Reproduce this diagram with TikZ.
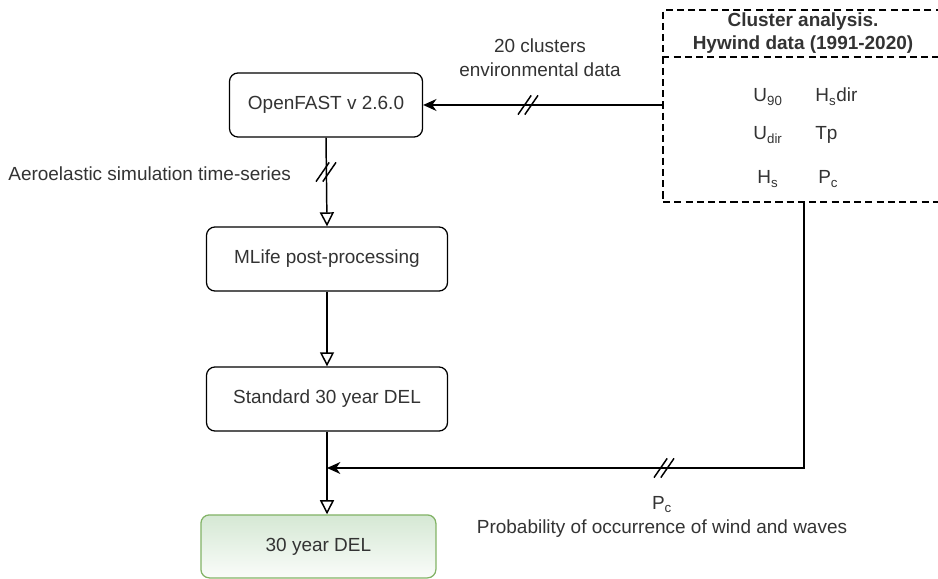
\documentclass[tikz,border=0pt]{standalone}
\usepackage{fontspec}
\setmainfont{Liberation Sans}
\usepackage{tikz}
\usetikzlibrary{arrows.meta}
\definecolor{txt}{HTML}{333333}
\definecolor{delfill}{HTML}{D5E8D4}
\definecolor{delline}{HTML}{82B366}
\newcommand{\dfont}{\fontsize{13.5}{17}\selectfont}
\tikzstyle{block}=[draw, rounded corners=6pt, line width=0.9pt, text=txt, inner sep=0pt, minimum height=1.6cm]
\tikzstyle{wblock}=[block, minimum width=6.025cm]
\tikzstyle{link}=[line width=1.05pt, -{Triangle[open, length=10pt, width=10pt]}]
\tikzstyle{feed}=[line width=1.05pt, -{Stealth[length=9.5pt, width=8.5pt, inset=3pt]}]
\tikzstyle{lbl}=[text=txt, align=center]
\tikzstyle{var}=[text=txt, inner sep=0pt]
\tikzstyle{cbox}=[draw, line width=0.8pt, dash pattern=on 5pt off 3pt]
\tikzset{dslash/.pic={
    \draw[line width=1.05pt] (-0.25,-0.24) -- (0.08,0.24);
    \draw[line width=1.05pt] (-0.08,-0.24) -- (0.25,0.24);
}}

\begin{document}
\begin{tikzpicture}[font=\dfont]
        \useasboundingbox (0,0) rectangle (23.45,-14.475);
        % process chain
        \node[block, minimum width=4.825cm] (ofast) at (8.15,-2.625) {OpenFAST v 2.6.0};
        \node[wblock] (mlife) at (8.175,-6.475) {MLife post-processing};
        \node[wblock] (std) at (8.175,-9.975) {Standard 30 year DEL};
        \node[block, draw=delline, top color=delfill, bottom color=delfill!12, minimum width=5.875cm, minimum height=1.575cm] (del) at (7.96,-13.66) {30 year DEL};
        % cluster data
        \node[cbox, minimum width=7cm, minimum height=4.8cm, inner sep=0pt] (clus) at (20.075,-2.65) {};
        \draw[cbox] ([yshift=1.225cm]clus.west) -- ([yshift=1.225cm]clus.east);
        \node[lbl, font=\fontsize{13.5}{16.4}\selectfont\bfseries] (ctitle) at (20.075,-0.8375) {Cluster analysis.\\Hywind data (1991-2020)};
        \node[var, anchor=base] (u90) at (19.2,-2.55) {U\textsubscript{90}};
        \node[var, anchor=base] (udir) at (19.2,-3.5) {U\textsubscript{dir}};
        \node[var, anchor=base] (hs) at (19.2,-4.6) {H\textsubscript{s}};
        \node[var, anchor=base west] (hsdir) at (20.375,-2.55) {H\textsubscript{s}dir};
        \node[var, anchor=base west] (tp) at (20.375,-3.5) {Tp};
        \node[var, anchor=base west] (pc) at (20.45,-4.6) {P\textsubscript{c}};
        % links
        \draw[feed] (clus.west |- ofast.east) -- (ofast.east);
        \pic at (13.2,-2.625) {dslash};
        \node[lbl] (envlbl) at (13.5,-1.45) {20 clusters\\environmental data};
        \draw[link] (ofast.south) -- (mlife.north);
        \pic at (8.15,-4.3) {dslash};
        \node[lbl, anchor=east] (aero) at (7.4,-4.35) {Aeroelastic simulation time-series};
        \draw[link] (mlife.south) -- (std.north);
        \draw[link] (std.south) -- (std.south |- del.north);
        \coordinate (join) at (8.175,-11.7);
        \coordinate (turn) at (20.1,-11.7);
        \draw[feed] (clus.south -| turn) -- (turn) -- (join);
        \pic at (16.6,-11.7) {dslash};
        \node[lbl] (pclbl) at (16.55,-12.925) {P\textsubscript{c}\\Probability of occurrence of wind and waves};
    \end{tikzpicture}
\end{document}
